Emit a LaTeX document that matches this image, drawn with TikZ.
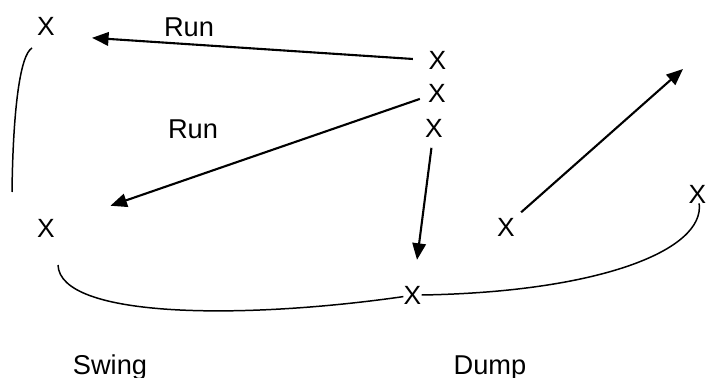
\documentclass[tikz,border=0pt]{standalone}
\usepackage{fontspec}
\setmainfont{Liberation Sans}
\usetikzlibrary{arrows.meta}

\begin{document}
\begin{tikzpicture}[
    x=0.02cm, y=-0.02cm,
    xmark/.style={inner sep=0pt, font=\fontsize{15}{18}\selectfont},
    lbl/.style={inner sep=0pt, font=\fontsize{15.5}{18}\selectfont},
    arrow/.style={-{Triangle[length=0.33cm, width=0.27cm]}, line width=1.2pt},
    curve/.style={line width=0.85pt}
]
    \useasboundingbox (0,0) rectangle (706,378);

    \node[xmark] (x1) at (46,26) {X};
    \node[xmark] (x2) at (437.5,60) {X};
    \node[xmark] (x3) at (437,93) {X};
    \node[xmark] (x4) at (434,128) {X};
    \node[xmark] (x5) at (46,228) {X};
    \node[xmark] (x6) at (412.5,295) {X};
    \node[xmark] (x7) at (697.5,194) {X};
    \node[xmark] (x8) at (506,227) {X};

    \node[lbl] (run1) at (189,27) {Run};
    \node[lbl] (run2) at (193,129) {Run};
    \node[lbl, anchor=base] (swing) at (110,374) {Swing};
    \node[lbl, anchor=base] (dump) at (490,374) {Dump};

    \coordinate (bracetop) at (32,48);
    \coordinate (bracebot) at (12,192);
    \coordinate (swingstart) at (58,265);
    \coordinate (dumpend) at (683,69);

    \draw[arrow, shorten <=0.31cm, shorten >=0.74cm] (x2.west) -- (x1.south east);
    \draw[arrow, shorten <=0.17cm, shorten >=1.17cm] (x3) -- (x5);
    \draw[arrow, shorten <=0.21cm, shorten >=0.52cm] (x4) -- (x6);
    \draw[arrow, shorten <=0.16cm] (x8.north east) -- (dumpend);

    \draw[curve] (bracetop) .. controls (20,55) and (13,110) .. (bracebot);
    \draw[curve] (swingstart) .. controls (60,318) and (240,320) .. (x6.190);
    \draw[curve] (x6.east) .. controls (600,292) and (705,250) .. (x7.-80);
\end{tikzpicture}
\end{document}
